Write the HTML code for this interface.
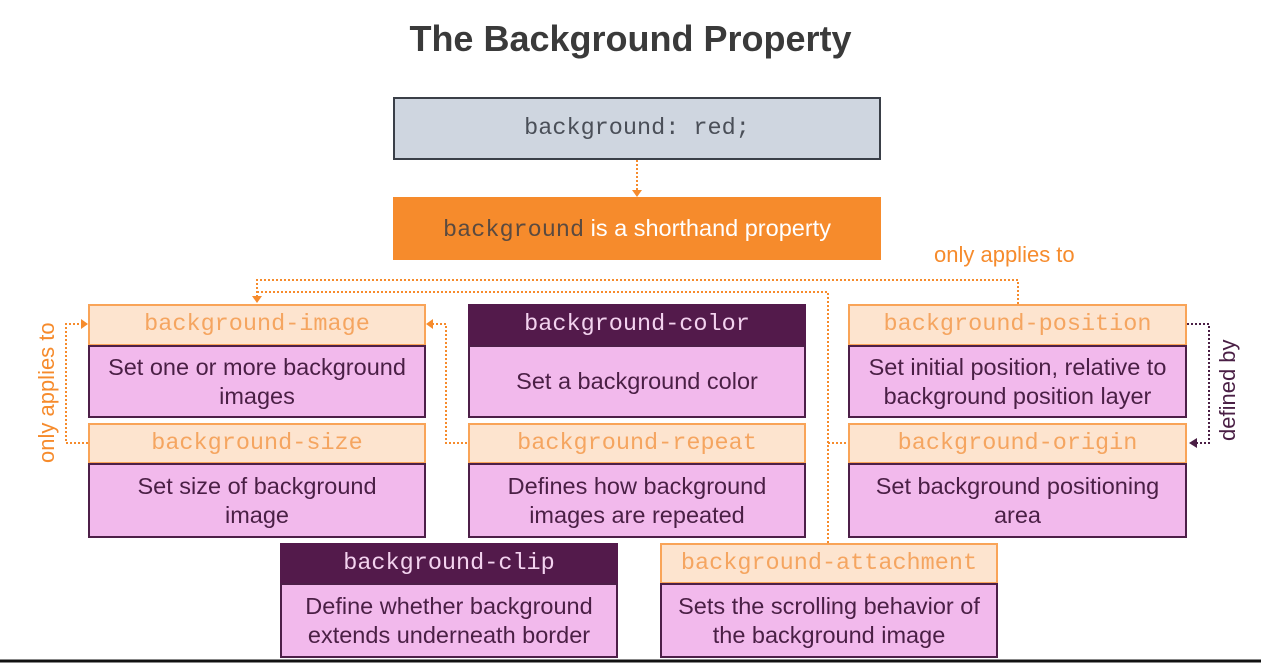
<!DOCTYPE html>
<html><head><style>
body{margin:0;width:1261px;height:665px;background:#fff;position:relative;overflow:hidden;font-family:"Liberation Sans",sans-serif}
.a{position:absolute;box-sizing:border-box}
.h{background:#fde4cf;border:2px solid #f9a458;color:#f5a560;font-family:"Liberation Mono",monospace;font-size:23.5px;text-align:center;line-height:38px}
.hd{background:#531a4b;border:2px solid #531a4b;color:#f3d3ef;font-family:"Liberation Mono",monospace;font-size:23.5px;text-align:center;line-height:38px}
.b{background:#f2b9ec;border:2px solid #4d1f48;color:#4a1f45;font-size:23.5px;text-align:center;display:flex;align-items:center;justify-content:center;line-height:29px}
</style></head><body>
<div class="a" style="left:0;top:18px;width:1261px;text-align:center;font-size:36px;font-weight:bold;color:#3a3a3a">The Background Property</div>
<div class="a" style="left:393px;top:97px;width:488px;height:63px;background:#cfd6e0;border:2px solid #3a3f48;font-family:'Liberation Mono',monospace;font-size:23.5px;color:#4a4f58;text-align:center;line-height:59px">background: red;</div>
<div class="a" style="left:393px;top:197px;width:488px;height:63px;background:#f68b2c;font-size:23.5px;color:#fff;text-align:center;line-height:63px"><span style="font-family:'Liberation Mono',monospace;color:#5a4a40">background</span> is a shorthand property</div>
<div class="a" style="left:934px;top:242px;font-size:22px;color:#f68b2c">only applies to</div>
<div class="a" style="left:34px;top:463px;font-size:22px;color:#f68b2c;transform:rotate(-90deg);transform-origin:0 0;white-space:nowrap">only applies to</div>
<div class="a" style="left:1215px;top:441px;font-size:22px;color:#4a1f45;transform:rotate(-90deg);transform-origin:0 0;white-space:nowrap">defined by</div>
<svg class="a" style="left:0;top:0" width="1261" height="665">
<g fill="none" stroke="#f68b2c" stroke-width="2" stroke-dasharray="2 2">
<path d="M637 160V192"/>
<path d="M1018 304V280H257V298"/>
<path d="M828 543V292H257"/>
<path d="M828 443H848"/>
<path d="M88 443H66V324H82"/>
<path d="M467 443H446V324H432"/>
</g>
<path d="M1187 324H1209V443H1196" fill="none" stroke="#4a1f45" stroke-width="2" stroke-dasharray="2 2"/>
<g fill="#f68b2c"><path d="M632 190H642L637 197Z"/><path d="M252 296H262L257 303Z"/><path d="M81 319V329L88 324Z"/><path d="M433 319V329L426 324Z"/></g>
<path d="M1197 438V448L1189 443Z" fill="#4a1f45"/>
<line x1="0" y1="661" x2="1261" y2="661" stroke="#111" stroke-width="3"/>
</svg>
<div class="a h" style="left:88px;top:304px;width:338px;height:42px">background-image</div>
<div class="a b" style="left:88px;top:345px;width:338px;height:73px">Set one or more background<br>images</div>
<div class="a h" style="left:88px;top:423px;width:338px;height:41px">background-size</div>
<div class="a b" style="left:88px;top:463px;width:338px;height:75px">Set size of background<br>image</div>
<div class="a hd" style="left:468px;top:304px;width:338px;height:42px">background-color</div>
<div class="a b" style="left:468px;top:345px;width:338px;height:73px">Set a background color</div>
<div class="a h" style="left:468px;top:423px;width:338px;height:41px">background-repeat</div>
<div class="a b" style="left:468px;top:463px;width:338px;height:75px">Defines how background<br>images are repeated</div>
<div class="a h" style="left:848px;top:304px;width:339px;height:42px">background-position</div>
<div class="a b" style="left:848px;top:345px;width:339px;height:73px">Set initial position, relative to<br>background position layer</div>
<div class="a h" style="left:848px;top:423px;width:339px;height:41px">background-origin</div>
<div class="a b" style="left:848px;top:463px;width:339px;height:75px">Set background positioning<br>area</div>
<div class="a hd" style="left:280px;top:543px;width:338px;height:41px">background-clip</div>
<div class="a b" style="left:280px;top:583px;width:338px;height:75px">Define whether background<br>extends underneath border</div>
<div class="a h" style="left:660px;top:543px;width:338px;height:41px">background-attachment</div>
<div class="a b" style="left:660px;top:583px;width:338px;height:75px">Sets the scrolling behavior of<br>the background image</div>
</body></html>
